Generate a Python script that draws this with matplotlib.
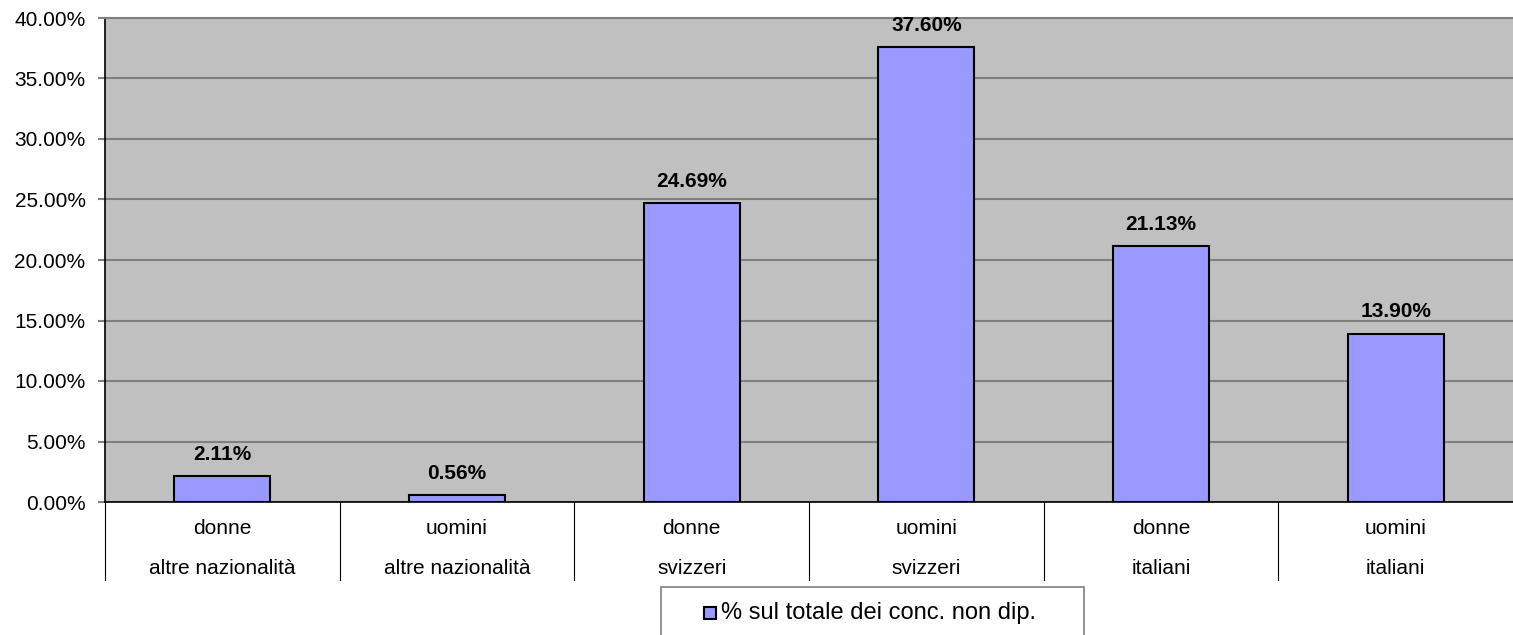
import matplotlib.pyplot as plt
from matplotlib.patches import Rectangle
import matplotlib.transforms as mtransforms

plt.rcParams['font.family'] = ['Liberation Sans', 'DejaVu Sans']

# data
genders = ['donne', 'uomini', 'donne', 'uomini', 'donne', 'uomini']
groups = ['altre nazionalità', 'altre nazionalità', 'svizzeri', 'svizzeri',
          'italiani', 'italiani']
values = [2.11, 0.56, 24.69, 37.60, 21.13, 13.90]
series_name = '% sul totale dei conc. non dip.'

fig = plt.figure(figsize=(15.13, 6.35), dpi=100)
ax = fig.add_axes([105 / 1513, 1 - 502 / 635, 1 - 105 / 1513, (502 - 18) / 635])
ax.set_facecolor('#C0C0C0')

x = list(range(len(values)))
bars = ax.bar(x, values, width=0.41, color='#9999FF', edgecolor='black',
              linewidth=1.5, zorder=3)

for xi, v in zip(x, values):
    ax.annotate(f'{v:.2f}%', (xi, v), xytext=(0, 9), textcoords='offset points',
                ha='center', va='bottom', fontsize=15, fontweight='bold')

ax.set_xlim(-0.5, len(values) - 0.5)
ax.set_ylim(0, 40)
yt = list(range(0, 41, 5))
ax.set_yticks(yt)
ax.set_yticklabels([f'{t:.2f}%' for t in yt], fontsize=15)
ax.yaxis.grid(True, color='#808080', linewidth=1.5, zorder=0)
ax.tick_params(axis='y', length=5, color='#808080', width=1.5, pad=9)
ax.set_xticks([])

ax.spines['right'].set_visible(False)
ax.spines['top'].set_color('#808080')
ax.spines['top'].set_linewidth(1.5)
ax.spines['left'].set_linewidth(1.2)
ax.spines['bottom'].set_linewidth(1.2)

# category labels and separators below the axis
trans = mtransforms.blended_transform_factory(ax.transData, fig.transFigure)
for xi, g, grp in zip(x, genders, groups):
    ax.text(xi, 1 - 528 / 635, g, transform=trans, ha='center', va='center',
            fontsize=15)
    ax.text(xi, 1 - 568 / 635, grp, transform=trans, ha='center', va='center',
            fontsize=15)
for b in [i - 0.5 for i in range(len(values))]:
    ax.plot([b, b], [1 - 502 / 635, 1 - 580 / 635], transform=trans,
            color='black', linewidth=0.8, clip_on=False)

# legend box
fig.patches.append(Rectangle((661 / 1513, 1 - 640 / 635), (1084 - 661) / 1513,
                             (640 - 587) / 635, transform=fig.transFigure,
                             facecolor='white', edgecolor='#808080', linewidth=1.2))
fig.patches.append(Rectangle((704 / 1513, 1 - 619 / 635), 12 / 1513, 12 / 635,
                             transform=fig.transFigure, facecolor='#9999FF',
                             edgecolor='black', linewidth=1.5))
fig.text(721 / 1513, 1 - 613 / 635, series_name, ha='left', va='center',
         fontsize=17)

fig.savefig('out.png', dpi=100)
